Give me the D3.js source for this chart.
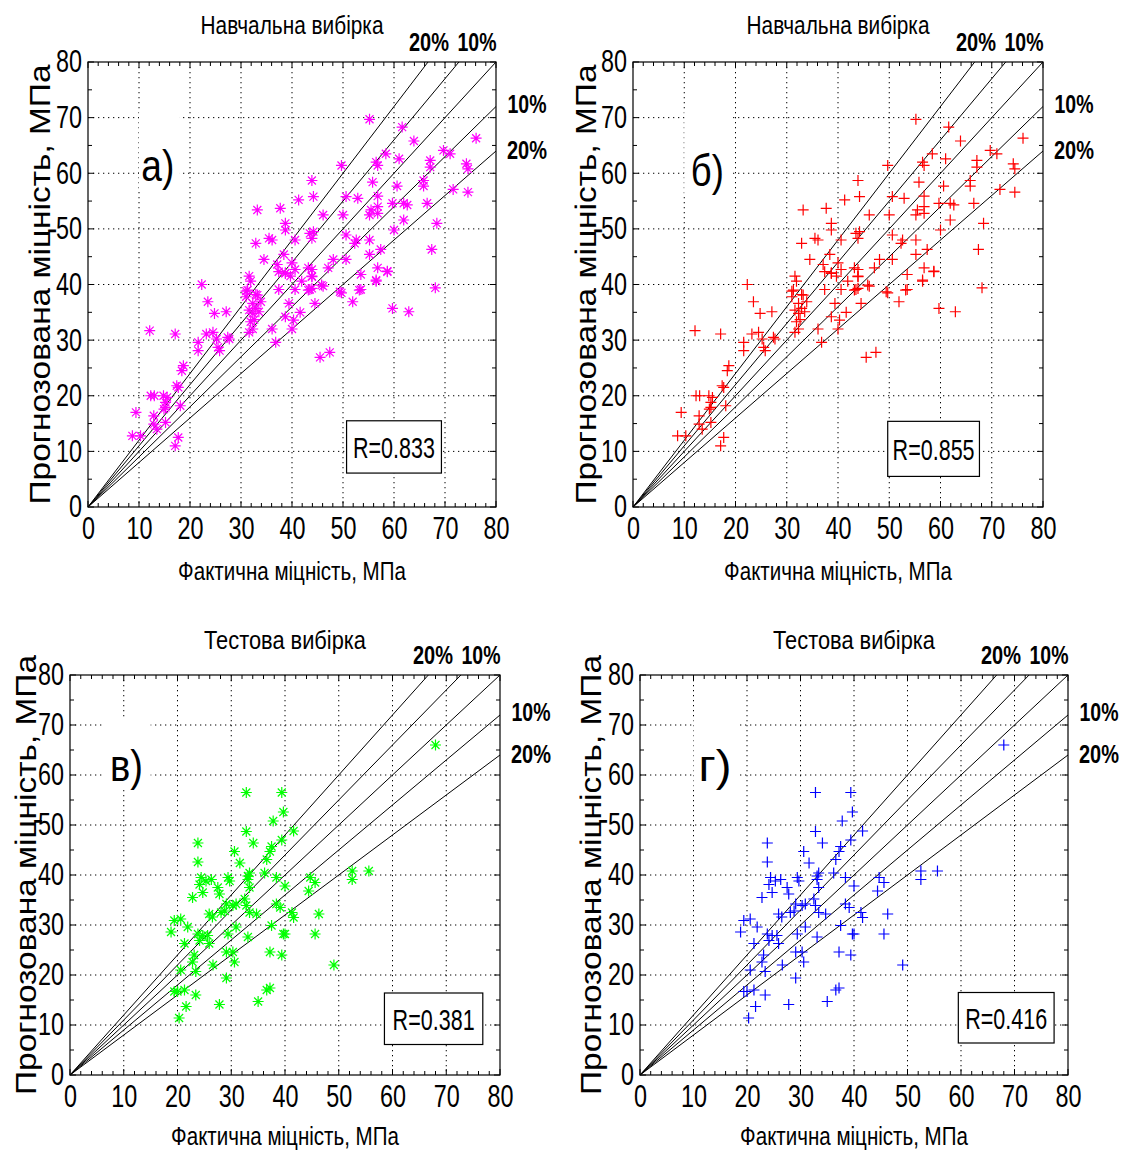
<!DOCTYPE html>
<html><head><meta charset="utf-8">
<script src="https://cdn.jsdelivr.net/npm/d3@7"></script>
<style>
body{margin:0;background:#fff;}
text{font-family:"Liberation Sans",Arial,Helvetica,sans-serif;}
</style></head>
<body>
<script>
// ---------- DATA ----------
const trainX = [55.2,61.6,63.9,76.1,58.4,61.0,69.7,71.0,56.5,56.8,49.7,67.1,67.1,74.2,74.5,43.9,55.8,60.6,65.8,65.8,71.6,74.5,44.2,41.3,50.6,52.9,56.8,33.2,37.7,46.1,50.0,55.2,55.5,56.8,56.8,59.7,61.9,62.6,66.5,61.9,60.0,68.4,67.4,38.7,38.7,43.5,44.2,43.9,50.6,52.6,52.3,55.2,32.9,35.5,36.1,40.6,55.2,57.4,34.5,37.1,38.4,40.0,40.6,39.7,43.2,43.9,43.9,47.1,48.1,50.6,53.5,56.8,58.7,56.5,41.9,31.6,31.9,22.3,46.1,68.1,53.5,49.7,37.4,40.6,43.5,31.0,32.9,38.7,
23.5,24.8,27.1,12.1,17.1,21.6,21.6,23.2,24.5,25.2,25.5,25.8,27.4,27.7,31.0,31.3,31.6,32.3,32.9,33.5,32.3,33.2,33.9,31.9,32.3,31.6,32.6,36.1,36.8,38.7,39.4,40.3,40.0,41.6,37.4,38.7,43.9,43.9,45.8,43.2,44.5,49.4,51.9,53.2,56.5,58.7,59.7,62.9,45.5,47.4,12.3,13.0,14.8,15.5,17.7,17.4,15.2,15.2,14.9,18.1,18.7,18.4,9.4,12.9,12.9,15.2,8.7,10.3,17.1,17.7,13.5];
const trainY = [69.7,68.3,65.8,66.3,63.5,62.6,64.1,63.5,62.0,61.4,61.4,62.3,61.1,61.7,60.8,58.7,58.4,57.7,58.7,57.7,57.1,56.6,55.8,55.2,55.8,55.5,55.9,53.4,53.7,52.5,52.5,52.5,53.4,54.0,52.8,54.6,54.6,54.3,54.6,51.6,49.8,51.0,46.3,51.0,49.8,49.2,49.5,48.3,48.9,48.0,47.4,48.0,47.4,48.3,48.0,48.0,45.4,46.3,44.5,43.6,45.4,43.9,42.7,41.5,43.0,42.7,41.5,43.0,44.5,44.5,41.8,43.0,42.4,40.6,40.6,41.5,40.6,40.0,39.7,39.4,39.1,38.5,39.1,39.1,39.1,38.8,38.2,42.1,
36.9,34.8,35.1,31.7,31.1,29.6,28.1,31.1,31.4,30.2,28.7,28.1,30.5,30.2,37.8,39.0,35.4,34.8,35.7,35.1,36.6,38.1,36.9,33.3,32.0,31.4,33.7,32.0,29.6,34.2,36.6,33.6,32.0,35.0,42.3,42.0,41.4,39.3,39.9,39.0,36.6,38.7,36.9,39.0,40.8,42.3,35.7,35.1,26.9,27.8,20.0,20.0,20.0,19.7,21.5,21.8,18.8,17.9,17.6,18.2,25.4,24.5,17.0,16.4,14.9,15.2,12.8,12.8,11.0,12.5,14.0];
const testX = [32.8,39.4,39.7,37.8,41.6,32.8,34.1,37.2,37.5,39.4,23.8,23.8,30.6,31.6,36.6,33.4,33.1,33.1,33.4,36.2,38.4,40.0,24.4,24.1,25.3,26.3,24.7,22.8,27.5,27.8,29.4,29.7,29.1,30.3,30.9,32.5,32.8,33.4,34.7,38.4,39.1,41.3,41.6,44.7,45.6,44.4,46.3,45.6,39.7,40.0,37.5,33.1,30.9,29.4,25.9,26.5,28.1,28.8,19.4,20.6,18.8,21.9,23.8,24.7,25.6,24.1,25.9,21.3,23.1,22.8,29.1,30.3,30.6,26.6,20.6,23.4,29.1,37.2,39.4,37.2,36.6,19.4,20.0,21.3,23.4,27.8,35.0,21.6,20.3,49.1,52.5,52.5,55.6,68.0];
const testY = [56.5,56.5,52.6,50.8,48.8,48.7,46.4,44.7,45.7,47.0,46.4,42.6,44.7,42.4,43.1,40.4,39.8,39.1,37.5,40.4,39.5,37.8,39.5,38.1,38.8,39.1,36.5,35.5,37.5,36.2,39.5,38.8,34.2,33.9,34.2,35.2,33.9,32.5,32.2,34.2,33.5,32.5,31.5,39.5,38.5,36.8,32.2,28.2,28.2,28.2,29.9,27.6,29.6,28.2,32.2,31.6,32.5,32.8,30.9,31.2,28.6,29.6,28.2,27.9,27.9,26.9,26.3,26.3,24.0,22.6,24.6,24.6,22.6,22.0,21.0,20.7,19.4,24.6,24.0,17.4,17.0,16.7,16.7,17.0,16.0,14.1,14.7,13.7,11.4,22.0,40.8,39.1,40.8,66.0];
const titles = ["Навчальна вибірка","Навчальна вибірка","Тестова вибірка","Тестова вибірка"];
const panelLabels = ["а)","б)","в)","г)"];
const rLabels = ["R=0.833","R=0.855","R=0.381","R=0.416"];
const xTicks = [0,10,20,30,40,50,60,70,80];
const yTicks = [0,10,20,30,40,50,60,70,80];
const boundFactors = [1.2,1.1,1.0,0.9,0.8];
const topBoundLabels = ["20%","10%"];
const rightBoundLabels = ["10%","20%"];
const xLabel = "Фактична міцність, МПа";
const yLabel = "Прогнозована міцність, МПа";

// ---------- LAYOUT ----------
const panels = [
 {L:88,R:496,T:62,B:507,xs:trainX,ys:trainY,mk:"star",col:"#ff00ff",lab:[13.7,61.5],labBox:[10,18,57,71],rBox:[50.7,69.3,6.1,15.5],titleY:34,xlabY:580,ylabX:50},
 {L:633,R:1043,T:62,B:507,xs:trainX,ys:trainY,mk:"plus",col:"#ff0000",lab:[14.5,60.5],labBox:[10,19,56,71],rBox:[49.7,67.6,5.5,15.4],titleY:34,xlabY:580,ylabX:596},
 {L:70,R:500,T:675,B:1075,xs:testX,ys:testY,mk:"star",col:"#00ff00",lab:[10.5,62],labBox:[6.5,15,57,71],rBox:[58.5,76.8,6.1,16.4],titleY:649,xlabY:1145,ylabX:36},
 {L:640,R:1068,T:675,B:1075,xs:testX,ys:testY,mk:"plus",col:"#0000ff",lab:[14,62],labBox:[10,18.5,57,71],rBox:[59.5,77.4,6.4,16.5],titleY:649,xlabY:1145,ylabX:601}
];

const svg = d3.select("body").append("svg").attr("width",1129).attr("height",1151);
svg.append("rect").attr("width",1129).attr("height",1151).attr("fill","#fff");

// horizontally condensed text: scale the glyphs so the text spans `w` pixels
function condText(parent, str, x, y, w, opts){
  const o = Object.assign({size:26, anchor:"middle", weight:"normal", rot:0, dy:null}, opts||{});
  const t = parent.append("text").attr("x",0).attr("y",0).attr("text-anchor",o.anchor)
    .attr("font-size",o.size).attr("font-weight",o.weight).attr("fill","#000").text(str);
  if (o.dy) t.attr("dy",o.dy);
  const nat = t.node().getComputedTextLength() || w;
  t.attr("transform",`translate(${x},${y}) rotate(${o.rot}) scale(${w/nat},1)`);
  return t;
}

const plusPath = "M-5.5,0H5.5M0,-5.5V5.5";
const starPath = "M-5.5,0H5.5M0,-5.5V5.5M-4,-4L4,4M-4,4L4,-4";

panels.forEach((p,i)=>{
  const x = d3.scaleLinear().domain([0,80]).range([p.L,p.R]);
  const y = d3.scaleLinear().domain([0,80]).range([p.B,p.T]);
  const g = svg.append("g");
  // grid
  const grid = g.append("g").attr("stroke","#000").attr("stroke-width",1).attr("stroke-dasharray","1.3,3.7").attr("fill","none");
  xTicks.slice(1,-1).forEach(v=>grid.append("line").attr("x1",x(v)).attr("x2",x(v)).attr("y1",p.T).attr("y2",p.B));
  yTicks.slice(1,-1).forEach(v=>grid.append("line").attr("y1",y(v)).attr("y2",y(v)).attr("x1",p.L).attr("x2",p.R));
  // minor/major ticks inward on all sides
  const tk = g.append("g").attr("stroke","#000").attr("stroke-width",1);
  d3.range(0,81,2).forEach(v=>{
    const len = v%10===0?6:4;
    tk.append("line").attr("x1",x(v)).attr("x2",x(v)).attr("y1",p.B).attr("y2",p.B-len);
    tk.append("line").attr("x1",x(v)).attr("x2",x(v)).attr("y1",p.T).attr("y2",p.T+len);
  });
  d3.range(0,81,5).forEach(v=>{
    const len = v%10===0?6:4;
    tk.append("line").attr("y1",y(v)).attr("y2",y(v)).attr("x1",p.L).attr("x2",p.L+len);
    tk.append("line").attr("y1",y(v)).attr("y2",y(v)).attr("x1",p.R).attr("x2",p.R-len);
  });
  // tick labels via axes
  const ax = g.append("g").attr("transform",`translate(0,${p.B})`)
    .call(d3.axisBottom(x).tickValues(xTicks).tickSize(0).tickPadding(10).tickFormat(d3.format("d")));
  const ay = g.append("g").attr("transform",`translate(${p.L},0)`)
    .call(d3.axisLeft(y).tickValues(yTicks).tickSize(0).tickPadding(6).tickFormat(d3.format("d")));
  [ax,ay].forEach(a=>{a.select(".domain").remove();
    a.selectAll("text").attr("font-size",31).attr("fill","#000")
      .attr("textLength",d=>String(d).length*13).attr("lengthAdjust","spacingAndGlyphs");});
  ax.selectAll("text").attr("dy","0.71em");
  // panel letter with white box
  g.append("rect").attr("x",x(p.labBox[0])).attr("width",x(p.labBox[1])-x(p.labBox[0]))
    .attr("y",y(p.labBox[3])).attr("height",y(p.labBox[2])-y(p.labBox[3])).attr("fill","#fff");
  condText(g, panelLabels[i], x(p.lab[0]), y(p.lab[1]), 33, {size:44, dy:"0.36em"});
  // bound lines
  const bl = g.append("g").attr("stroke","#000").attr("stroke-width",1);
  boundFactors.forEach(f=>{
    const xe = f>=1 ? 80/f : 80, ye = f>=1 ? 80 : 80*f;
    bl.append("line").attr("x1",x(0)).attr("y1",y(0)).attr("x2",x(xe)).attr("y2",y(ye));
  });
  // points
  const pts = g.append("g").attr("stroke",p.col).attr("stroke-width",1.2).attr("fill","none");
  p.xs.forEach((v,k)=>{
    pts.append("path").attr("d",p.mk==="star"?starPath:plusPath)
      .attr("transform",`translate(${x(v)},${y(p.ys[k])})`);
  });
  // R box
  g.append("rect").attr("x",x(p.rBox[0])).attr("width",x(p.rBox[1])-x(p.rBox[0]))
    .attr("y",y(p.rBox[3])).attr("height",y(p.rBox[2])-y(p.rBox[3]))
    .attr("fill","#fff").attr("stroke","#000").attr("stroke-width",1.2);
  condText(g, rLabels[i], (x(p.rBox[0])+x(p.rBox[1]))/2, (y(p.rBox[2])+y(p.rBox[3]))/2, 82, {size:30, dy:"0.36em"});
  // axes box
  g.append("rect").attr("x",p.L).attr("y",p.T).attr("width",p.R-p.L).attr("height",p.B-p.T)
    .attr("fill","none").attr("stroke","#000").attr("stroke-width",1.2);
  // bound labels
  condText(g, topBoundLabels[0], p.R-67, p.T-11, 40, {size:25, weight:"bold"});
  condText(g, topBoundLabels[1], p.R-19, p.T-11, 39, {size:25, weight:"bold"});
  condText(g, rightBoundLabels[0], p.R+31, y(72)+6, 39, {size:25, weight:"bold"});
  condText(g, rightBoundLabels[1], p.R+31, y(64)+8, 40, {size:25, weight:"bold"});
  // titles and axis labels
  const cx = (p.L+p.R)/2, cy = (p.T+p.B)/2;
  condText(g, titles[i], cx, p.titleY, i<2?183:162, {size:26});
  condText(g, xLabel, cx, p.xlabY, 228, {size:26});
  g.append("text").attr("transform",`translate(${p.ylabX},${cy}) rotate(-90)`).attr("text-anchor","middle")
    .attr("font-size",29)
    .attr("textLength",440).attr("lengthAdjust","spacingAndGlyphs").text(yLabel);
});
</script>
</body></html>
